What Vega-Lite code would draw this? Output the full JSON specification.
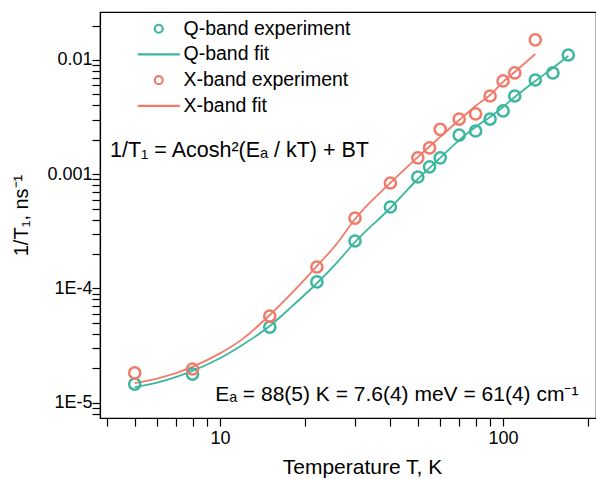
{
  "$schema": "https://vega.github.io/schema/vega-lite/v6.json",
  "width": 496,
  "height": 406,
  "autosize": {"type": "none"},
  "padding": {"left": 100, "top": 12, "right": 0, "bottom": 61},
  "background": "white",
  "view": {"stroke": "black", "strokeWidth": 1.2},
  "config": {
    "font": "Liberation Sans",
    "axis": {
      "grid": false,
      "domainColor": "black",
      "tickColor": "black",
      "labelColor": "black",
      "titleColor": "black",
      "titleFontWeight": "normal",
      "labelFont": "Liberation Sans",
      "titleFont": "Liberation Sans",
      "domainWidth": 1.2,
      "tickWidth": 1.2
    },
    "legend": {
      "labelFont": "Liberation Sans",
      "labelFontSize": 19.5,
      "labelColor": "black",
      "labelLimit": 0
    }
  },
  "datasets": {
    "points": [
      {"T": 5, "v": 1.455e-5, "series": "Q-band experiment"},
      {"T": 8, "v": 1.78e-5, "series": "Q-band experiment"},
      {"T": 15, "v": 4.59e-5, "series": "Q-band experiment"},
      {"T": 22, "v": 1.14e-4, "series": "Q-band experiment"},
      {"T": 30, "v": 2.6e-4, "series": "Q-band experiment"},
      {"T": 40, "v": 5.16e-4, "series": "Q-band experiment"},
      {"T": 50, "v": 9.45e-4, "series": "Q-band experiment"},
      {"T": 55, "v": 1.16e-3, "series": "Q-band experiment"},
      {"T": 60, "v": 1.39e-3, "series": "Q-band experiment"},
      {"T": 70, "v": 2.2e-3, "series": "Q-band experiment"},
      {"T": 80, "v": 2.39e-3, "series": "Q-band experiment"},
      {"T": 90, "v": 3.04e-3, "series": "Q-band experiment"},
      {"T": 100, "v": 3.58e-3, "series": "Q-band experiment"},
      {"T": 110, "v": 4.84e-3, "series": "Q-band experiment"},
      {"T": 130, "v": 6.68e-3, "series": "Q-band experiment"},
      {"T": 150, "v": 7.7e-3, "series": "Q-band experiment"},
      {"T": 170, "v": 1.106e-2, "series": "Q-band experiment"},
      {"T": 5, "v": 1.82e-5, "series": "X-band experiment"},
      {"T": 8, "v": 1.97e-5, "series": "X-band experiment"},
      {"T": 15, "v": 5.73e-5, "series": "X-band experiment"},
      {"T": 22, "v": 1.54e-4, "series": "X-band experiment"},
      {"T": 30, "v": 4.13e-4, "series": "X-band experiment"},
      {"T": 40, "v": 8.37e-4, "series": "X-band experiment"},
      {"T": 50, "v": 1.39e-3, "series": "X-band experiment"},
      {"T": 55, "v": 1.7e-3, "series": "X-band experiment"},
      {"T": 60, "v": 2.47e-3, "series": "X-band experiment"},
      {"T": 70, "v": 3.04e-3, "series": "X-band experiment"},
      {"T": 80, "v": 3.37e-3, "series": "X-band experiment"},
      {"T": 90, "v": 4.84e-3, "series": "X-band experiment"},
      {"T": 100, "v": 6.55e-3, "series": "X-band experiment"},
      {"T": 110, "v": 7.7e-3, "series": "X-band experiment"},
      {"T": 130, "v": 1.5e-2, "series": "X-band experiment"}
    ],
    "fits": [
      {"T": 5, "v": 1.37e-5, "series": "Q-band fit"},
      {"T": 6, "v": 1.5e-5, "series": "Q-band fit"},
      {"T": 8, "v": 1.9e-5, "series": "Q-band fit"},
      {"T": 10, "v": 2.45e-5, "series": "Q-band fit"},
      {"T": 12, "v": 3.2e-5, "series": "Q-band fit"},
      {"T": 15, "v": 4.69e-5, "series": "Q-band fit"},
      {"T": 18, "v": 7.0e-5, "series": "Q-band fit"},
      {"T": 22, "v": 1.11e-4, "series": "Q-band fit"},
      {"T": 26, "v": 1.7e-4, "series": "Q-band fit"},
      {"T": 30, "v": 2.55e-4, "series": "Q-band fit"},
      {"T": 40, "v": 5.06e-4, "series": "Q-band fit"},
      {"T": 50, "v": 9.08e-4, "series": "Q-band fit"},
      {"T": 60, "v": 1.39e-3, "series": "Q-band fit"},
      {"T": 70, "v": 1.99e-3, "series": "Q-band fit"},
      {"T": 80, "v": 2.59e-3, "series": "Q-band fit"},
      {"T": 90, "v": 3.17e-3, "series": "Q-band fit"},
      {"T": 100, "v": 3.88e-3, "series": "Q-band fit"},
      {"T": 110, "v": 4.74e-3, "series": "Q-band fit"},
      {"T": 130, "v": 6.55e-3, "series": "Q-band fit"},
      {"T": 150, "v": 8.51e-3, "series": "Q-band fit"},
      {"T": 170, "v": 1.084e-2, "series": "Q-band fit"},
      {"T": 5, "v": 1.48e-5, "series": "X-band fit"},
      {"T": 6, "v": 1.62e-5, "series": "X-band fit"},
      {"T": 8, "v": 2.06e-5, "series": "X-band fit"},
      {"T": 10, "v": 2.7e-5, "series": "X-band fit"},
      {"T": 12, "v": 3.6e-5, "series": "X-band fit"},
      {"T": 15, "v": 5.85e-5, "series": "X-band fit"},
      {"T": 18, "v": 9.2e-5, "series": "X-band fit"},
      {"T": 22, "v": 1.57e-4, "series": "X-band fit"},
      {"T": 26, "v": 2.5e-4, "series": "X-band fit"},
      {"T": 30, "v": 4.05e-4, "series": "X-band fit"},
      {"T": 40, "v": 8.38e-4, "series": "X-band fit"},
      {"T": 50, "v": 1.41e-3, "series": "X-band fit"},
      {"T": 60, "v": 2.12e-3, "series": "X-band fit"},
      {"T": 70, "v": 2.98e-3, "series": "X-band fit"},
      {"T": 80, "v": 3.96e-3, "series": "X-band fit"},
      {"T": 90, "v": 4.94e-3, "series": "X-band fit"},
      {"T": 100, "v": 6.42e-3, "series": "X-band fit"},
      {"T": 110, "v": 7.85e-3, "series": "X-band fit"},
      {"T": 130, "v": 1.13e-2, "series": "X-band fit"}
    ],
    "noteLeft": [
      {"T": 4.09, "v": 1.42e-3, "label": "1/T₁ = Acosh²(Eₐ / kT) + BT"}
    ],
    "noteRight": [
      {"T": 184.6, "v": 1.04e-5, "label": "Eₐ = 88(5) K = 7.6(4) meV = 61(4) cm⁻¹"}
    ]
  },
  "layer": [
    {
      "data": {"name": "fits"},
      "mark": {"type": "line", "strokeWidth": 1.8, "interpolate": "monotone"},
      "encoding": {
        "x": {
          "field": "T", "type": "quantitative",
          "scale": {"type": "log", "domain": [3.77, 213], "nice": false},
          "axis": {
            "title": "Temperature T, K",
            "values": [4, 5, 6, 7, 8, 9, 10, 20, 30, 40, 50, 60, 70, 80, 90, 100, 200],
            "labelExpr": "datum.value == 10 ? '10' : datum.value == 100 ? '100' : ''",
            "tickSize": 8,
            "encode": {"ticks": {"update": {"y2": {"signal": "datum.value == 10 || datum.value == 100 ? 8 : 4"}}}},
            "labelPadding": 3,
            "labelFontSize": 18,
            "titleFontSize": 21,
            "titlePadding": 9,
            "titleX": 262,
            "titleAnchor": "middle",
            "labelFlush": false,
            "labelOverlap": false
          }
        },
        "y": {
          "field": "v", "type": "quantitative",
          "scale": {"type": "log", "domain": [7.34e-6, 0.0263], "nice": false},
          "axis": {
            "title": "1/T₁, ns⁻¹",
            "values": [8e-6, 9e-6, 1e-5, 2e-5, 3e-5, 4e-5, 5e-5, 6e-5, 7e-5, 8e-5, 9e-5, 1e-4, 2e-4, 3e-4, 4e-4, 5e-4, 6e-4, 7e-4, 8e-4, 9e-4, 1e-3, 2e-3, 3e-3, 4e-3, 5e-3, 6e-3, 7e-3, 8e-3, 9e-3, 1e-2, 2e-2],
            "labelExpr": "datum.value == 0.01 ? '0.01' : datum.value == 0.001 ? '0.001' : datum.value == 0.0001 ? '1E-4' : datum.value == 0.00001 ? '1E-5' : ''",
            "tickSize": 8,
            "encode": {"ticks": {"update": {"x2": {"signal": "datum.value == 0.01 || datum.value == 0.001 || datum.value == 0.0001 || datum.value == 0.00001 ? -8 : -4"}}}},
            "labelPadding": 0,
            "labelFontSize": 18,
            "titleFontSize": 20,
            "titlePadding": 15,
            "labelOverlap": false,
            "labelFlush": false
          }
        },
        "color": {
          "field": "series", "type": "nominal",
          "scale": {
            "domain": ["Q-band experiment", "Q-band fit", "X-band experiment", "X-band fit"],
            "range": ["#3db79f", "#3db79f", "#f07b6b", "#f07b6b"]
          },
          "legend": {
            "title": null,
            "orient": "none",
            "legendX": 49,
            "legendY": 7,
            "padding": 0,
            "symbolSize": 64,
            "symbolStrokeWidth": 2.2,
            "labelOffset": 15,
            "labelLimit": 0,
            "rowPadding": 4.7,
            "encode": {
              "symbols": {
                "update": {
                  "shape": {"signal": "indexof(datum.label, 'fit') >= 0 ? 'M-5.25,0H5.25' : 'circle'"}
                }
              }
            }
          }
        }
      }
    },
    {
      "data": {"name": "points"},
      "mark": {"type": "point", "shape": "circle", "filled": false, "size": 125, "strokeWidth": 2.5, "opacity": 1},
      "encoding": {
        "x": {"field": "T", "type": "quantitative", "scale": {"type": "log", "domain": [3.77, 213], "nice": false}},
        "y": {"field": "v", "type": "quantitative", "scale": {"type": "log", "domain": [7.34e-6, 0.0263], "nice": false}},
        "color": {"field": "series", "type": "nominal"}
      }
    },
    {
      "data": {"name": "noteLeft"},
      "mark": {"type": "text", "fontSize": 21.5, "font": "Liberation Sans", "color": "black", "baseline": "alphabetic", "align": "left"},
      "encoding": {
        "x": {"field": "T", "type": "quantitative", "scale": {"type": "log", "domain": [3.77, 213], "nice": false}},
        "y": {"field": "v", "type": "quantitative", "scale": {"type": "log", "domain": [7.34e-6, 0.0263], "nice": false}},
        "text": {"field": "label"}
      }
    },
    {
      "data": {"name": "noteRight"},
      "mark": {"type": "text", "fontSize": 21, "font": "Liberation Sans", "color": "black", "baseline": "alphabetic", "align": "right"},
      "encoding": {
        "x": {"field": "T", "type": "quantitative", "scale": {"type": "log", "domain": [3.77, 213], "nice": false}},
        "y": {"field": "v", "type": "quantitative", "scale": {"type": "log", "domain": [7.34e-6, 0.0263], "nice": false}},
        "text": {"field": "label"}
      }
    }
  ]
}
